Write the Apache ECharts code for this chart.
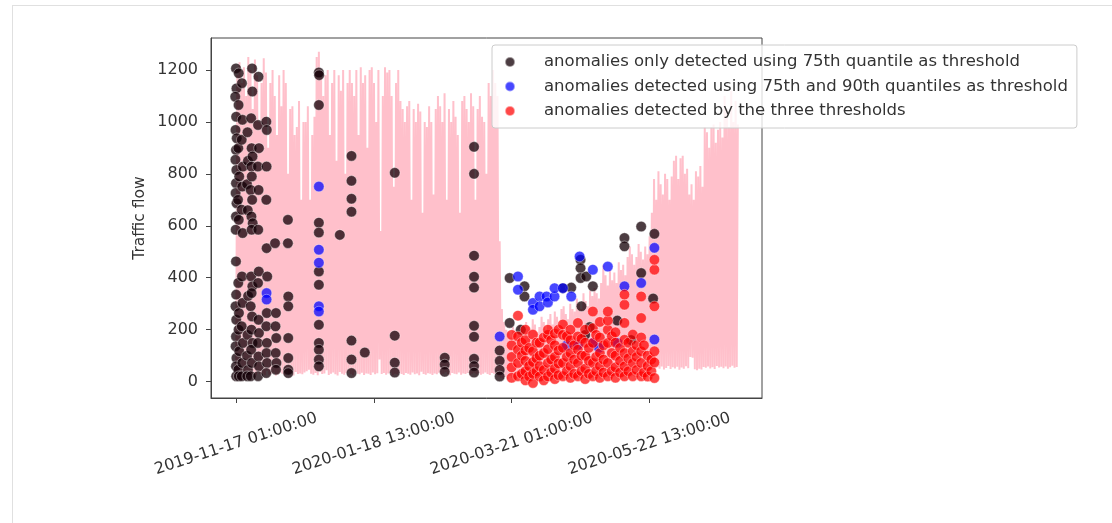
<!DOCTYPE html>
<html>
<head>
<meta charset="utf-8">
<script src="https://cdn.jsdelivr.net/npm/echarts@6/dist/echarts.min.js"></script>
<style>
html,body{margin:0;padding:0;background:#fff;}
#chart{width:1112px;height:523px;}
</style>
</head>
<body>
<div id="chart"></div>
<script>
// x values are hours since 2019-11-17 01:00:00
const xTickValues = [0, 1500, 3000, 4500];
const xTickLabels = ['2019-11-17 01:00:00', '2020-01-18 13:00:00', '2020-03-21 01:00:00', '2020-05-22 13:00:00'];
const yTickValues = [0, 200, 400, 600, 800, 1000, 1200];

const seriesNames = [
  'anomalies only detected using 75th quantile as threshold',
  'anomalies detected using 75th and 90th quantiles as threshold',
  'anomalies detected by the three thresholds'
];

// daily peak traffic flow (day 0 = 2019-11-17)
const dailyPeaks = [
  1180,1230,1150,1210,1100,1250,
  1200,1050,1240,1180,1000,1150,1245,
  1190,900,1150,1200,1100,950,1180,1060,
  1200,1150,800,1050,1060,950,980,1080,700,1000,
  1000,1060,700,950,1020,1250,1270,1200,
  1100,1180,1200,950,1150,1200,850,1180,1120,1200,800,1150,
  1200,1150,1100,1200,950,1210,1150,1180,900,1200,
  1210,1150,1000,1200,580,1100,1210,1190,1200,1100,750,1150,1200,1080,1050,
  1000,1060,1080,700,1050,1000,1070,1040,650,1000,980,1060,1000,720,1050,
  1100,1060,1000,1110,700,1050,1000,1080,1020,950,650,1080,1100,1050,1000,
  1110,1060,700,1050,1100,1020,1000,800,1150,1100,1200,1150,1100,
  540,280,230,200,190,170,210,200,180,220,200,170,230,210,200,240,220,190,210,250,230,200,
  240,260,220,270,250,210,280,290,260,240,300,280,270,320,300,280,340,310,290,350,
  330,360,340,320,380,450,410,370,430,390,420,380,460,430,450,410,480,520,490,450,480,530,500,470,520,490,560,
  650,780,700,810,760,720,800,780,700,790,850,870,780,860,870,800,820,720,760,700,
  810,790,830,750,980,960,900,980,990,920,970,1000,940,1100,1050,980,1120,1000,1080,990
];

// daily night-time low traffic flow
const dailyLows = [
  30,25,35,28,22,40,30,26,33,24,38,29,31,25,42,27,30,35,23,28,36,30,26,45,28,32,24,37,29,31,
  28,35,40,46,30,27,33,25,38,29,31,44,26,30,35,28,24,37,30,27,33,41,29,25,36,30,28,34,26,31,
  30,26,35,28,32,85,29,33,27,31,36,25,30,28,34,29,26,33,30,27,35,28,31,25,38,29,27,32,30,26,
  31,28,34,27,30,36,29,25,33,30,28,35,27,31,29,33,26,30,34,28,32,27,30,35,29,26,33,30,28,
  20,15,12,18,10,22,14,16,11,19,13,17,20,12,15,18,10,21,14,16,12,19,15,11,17,20,13,16,18,12,
  15,18,12,20,14,16,19,11,17,22,13,15,18,21,14,16,12,19,17,20,15,13,18,22,16,14,19,21,17,15,20,23,18,16,22,25,19,28,35,
  45,52,48,55,50,58,47,53,60,49,55,51,57,46,54,50,59,52,95,92,48,44,50,47,56,53,58,51,55,49,60,54,57,52,58,50,55,61,53,56
];

// [hour, traffic flow]
const blackPoints = [
  [0,1206],[5,1129],[-8,1097],[2,1020],[-5,969],[8,937],[0,892],[-6,854],[4,815],[0,764],[-4,726],[6,687],[0,636],[-3,585],[0,463],[2,335],[-5,290],[3,238],[0,174],[-4,136],[5,91],[0,59],[2,21],
  [30,1187],[28,1065],[25,899],[35,790],[22,700],[30,623],[25,380],[32,264],[28,200],[35,117],[25,46],[30,21],
  [65,1149],[70,1008],[62,931],[75,828],[68,751],[62,662],[72,572],[65,405],[70,303],[62,213],[75,149],[68,72],[62,21],
  [125,960],[130,850],[120,760],[128,660],[132,330],[125,180],[120,100],[130,45],[122,21],
  [175,1206],[178,1117],[165,1014],[170,899],[180,867],[168,828],[172,790],[160,738],[176,700],[168,636],[182,610],[170,585],[165,405],[178,367],[170,341],[160,290],[175,251],[168,200],[180,149],[165,123],[172,72],[160,21],
  [245,1174],[240,988],[250,899],[238,828],[246,738],[242,585],[248,424],[240,380],[245,238],[250,187],[238,149],[244,97],[250,59],[240,21],
  [330,1001],[335,969],[333,828],[330,700],[333,514],[340,405],[335,264],[330,213],[336,149],[332,110],[338,72],[330,33],
  [425,533],[435,264],[430,213],[438,168],[432,110],[440,72],[435,46],
  [565,623],[565,533],[569,328],[569,290],[569,168],[569,91],[569,46],[569,33],
  [902,1190],[905,1180],[902,1065],[902,612],[902,574],[902,424],[902,373],[902,219],[902,149],[902,123],[902,85],[902,59],
  [1130,565],
  [1257,869],[1257,773],[1257,704],[1257,654],[1257,158],[1257,85],[1257,33],
  [1402,112],
  [1728,804],[1728,177],[1728,73],[1728,35],
  [2272,92],[2272,66],[2272,38],
  [2591,904],[2591,800],[2591,485],[2591,404],[2591,362],[2591,215],[2591,173],[2591,88],[2591,60],[2591,35],
  [2870,120],[2870,80],[2870,45],[2870,20],
  [2978,399],[2978,226],[3140,367],[3140,328],[3100,200],[3558,360],[3649,362],
  [3750,469],[3750,437],[3750,399],[3760,290],[3812,405],[3884,367],
  [3800,180],[3850,210],[4300,160],[4150,235],
  [4228,553],[4228,521],[4410,597],[4410,418],[4554,569],[4540,320]
];

const bluePoints = [
  [333,341],[333,316],[902,751],[902,508],[902,458],[902,290],[902,270],
  [2870,174],[3069,405],[3069,354],[3232,303],[3232,277],[3304,328],[3304,290],
  [3380,328],[3395,305],[3467,328],[3467,360],[3558,360],[3649,328],[3721,142],
  [3740,482],[3884,431],[3884,149],[4047,443],[4228,367],[4410,380],
  [4554,515],[4554,162],[3600,140],[3950,130],[4150,150]
];

const redPoints = [
  [3000,15],[3000,55],[3000,95],[3000,140],[3000,180],
  [3069,21],[3069,72],[3069,123],[3069,174],[3069,254],
  [3110,30],[3110,100],[3110,150],
  [3150,5],[3150,40],[3150,80],[3150,120],[3150,160],[3150,200],
  [3190,20],[3190,60],[3190,130],
  [3232,-5],[3232,30],[3232,75],[3232,117],[3232,181],
  [3270,40],[3270,90],[3270,150],
  [3304,20],[3304,60],[3304,100],[3304,150],
  [3350,5],[3350,45],[3350,110],[3350,170],
  [3395,20],[3395,72],[3395,125],[3395,180],[3395,200],
  [3430,35],[3430,85],[3430,160],
  [3470,10],[3470,50],[3470,95],[3470,140],[3470,185],
  [3510,25],[3510,70],[3510,120],[3510,200],
  [3558,21],[3558,72],[3558,130],[3558,180],[3558,220],
  [3600,40],[3600,95],[3600,175],
  [3640,15],[3640,60],[3640,110],[3640,160],[3640,200],
  [3680,30],[3680,85],[3680,140],
  [3721,21],[3721,72],[3721,123],[3721,174],[3721,226],
  [3760,40],[3760,100],[3760,165],
  [3800,10],[3800,50],[3800,100],[3800,150],[3800,200],
  [3840,30],[3840,80],[3840,130],
  [3884,21],[3884,72],[3884,149],[3884,206],[3884,270],
  [3920,40],[3920,95],[3920,180],
  [3960,15],[3960,60],[3960,110],[3960,170],[3960,230],
  [4000,35],[4000,85],[4000,140],
  [4047,21],[4047,72],[4047,149],[4047,200],[4047,235],[4047,270],
  [4090,40],[4090,110],[4090,175],
  [4130,15],[4130,55],[4130,100],[4130,150],[4130,190],
  [4180,35],[4180,80],[4180,130],
  [4228,21],[4228,59],[4228,110],[4228,161],[4228,226],[4228,296],[4228,335],
  [4270,40],[4270,90],[4270,150],
  [4319,21],[4319,72],[4319,117],[4319,181],
  [4360,45],[4360,95],[4360,140],
  [4410,21],[4410,72],[4410,117],[4410,170],[4410,245],[4410,328],
  [4440,35],[4440,140],
  [4480,20],[4480,60],[4480,100],
  [4520,40],[4520,85],
  [4554,14],[4554,74],[4554,117],[4554,290],[4554,431],[4554,469]
];

// build the line series: night low then midday peak for each day
const lineData = [];
for (let d = 0; d < dailyPeaks.length; d++) {
  lineData.push([d * 24 + 2, dailyLows[d]]);
  lineData.push([d * 24 + 14, dailyPeaks[d]]);
}

const FONT = 'DejaVu Sans';
const chart = echarts.init(document.getElementById('chart'), null, {renderer: 'canvas'});

const scatterStyle = (color) => ({
  color: color,
  borderColor: 'rgba(255,255,255,0.6)',
  borderWidth: 0.8
});

chart.setOption({
  animation: false,
  backgroundColor: '#ffffff',
  graphic: [
    {type: 'line', shape: {x1: 12, y1: 5.5, x2: 1112, y2: 5.5}, style: {stroke: '#e0e0e0', lineWidth: 1}, z: 0},
    {type: 'line', shape: {x1: 12.5, y1: 5, x2: 12.5, y2: 523}, style: {stroke: '#e0e0e0', lineWidth: 1}, z: 0}
  ],
  grid: {left: 211, right: 350, top: 38, bottom: 125, show: true, borderColor: '#444', borderWidth: 1, backgroundColor: 'transparent'},
  legend: {
    orient: 'vertical',
    left: 492, top: 45,
    padding: [7.5, 9, 7.5, 12],
    itemWidth: 14, itemHeight: 10, itemGap: 5.5,
    icon: 'circle',
    backgroundColor: 'rgba(255,255,255,0.8)',
    borderColor: '#cccccc', borderWidth: 1, borderRadius: 3,
    textStyle: {fontSize: 16.5, fontFamily: FONT, color: '#333', padding: [0, 0, 0, 22], lineHeight: 19},
    data: seriesNames
  },
  xAxis: {
    type: 'value',
    min: -272, max: 5725,
    axisLine: {show: true, onZero: false, lineStyle: {color: '#444'}},
    axisTick: {show: true, customValues: xTickValues, length: 5, lineStyle: {color: '#444'}},
    axisLabel: {
      customValues: xTickValues,
      rotate: 18,
      align: 'center',
      verticalAlign: 'middle',
      margin: 46,
      fontSize: 16, fontFamily: FONT, color: '#333',
      formatter: (v) => {
        const i = xTickValues.indexOf(v);
        return i >= 0 ? xTickLabels[i] : '';
      }
    },
    splitLine: {show: false}
  },
  yAxis: {
    type: 'value',
    min: -63, max: 1323,
    name: 'Traffic flow',
    nameLocation: 'middle',
    nameGap: 63,
    nameTextStyle: {fontSize: 15.5, fontFamily: FONT, color: '#333'},
    axisLine: {show: true, onZero: false, lineStyle: {color: '#444'}},
    axisTick: {show: true, customValues: yTickValues, length: 5, lineStyle: {color: '#444'}},
    axisLabel: {customValues: yTickValues, margin: 13, fontSize: 16, fontFamily: FONT, color: '#333', formatter: (v) => String(v)},
    splitLine: {show: false}
  },
  series: [
    {
      type: 'line',
      name: 'traffic',
      data: lineData,
      showSymbol: false,
      symbol: 'none',
      lineStyle: {color: '#ffc0cb', width: 2},
      z: 1,
      silent: true
    },
    {type: 'scatter', name: seriesNames[0], data: blackPoints, symbolSize: 10.5, itemStyle: scatterStyle('rgba(20,0,6,0.95)'), z: 2},
    {type: 'scatter', name: seriesNames[1], data: bluePoints, symbolSize: 10.5, itemStyle: scatterStyle('rgba(0,0,255,0.9)'), z: 3},
    {type: 'scatter', name: seriesNames[2], data: redPoints, symbolSize: 10.5, itemStyle: scatterStyle('rgba(255,0,0,0.9)'), z: 4}
  ]
});
</script>
</body>
</html>
